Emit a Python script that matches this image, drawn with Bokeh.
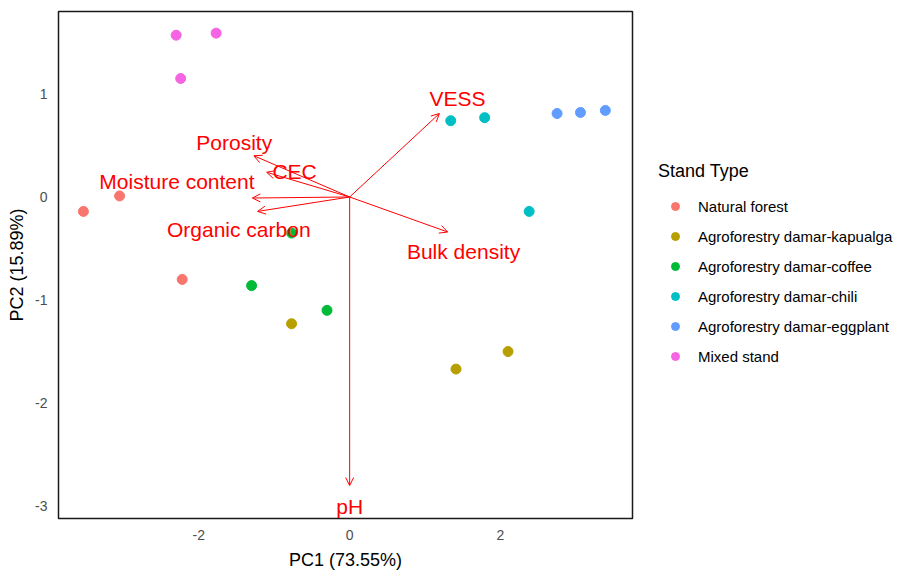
from bokeh.plotting import figure
from bokeh.layouts import row
from bokeh.models import (ColumnDataSource, Arrow, OpenHead, Legend, LegendItem,
                          FixedTicker, Range1d)
from bokeh.core.properties import value
from bokeh.embed import file_html
from bokeh.resources import INLINE

# ---- data ----
groups = ["Natural forest", "Agroforestry damar-kapualga", "Agroforestry damar-coffee",
          "Agroforestry damar-chili", "Agroforestry damar-eggplant", "Mixed stand"]
colors = ["#F8766D", "#B79F00", "#00BA38", "#00BFC4", "#619CFF", "#F564E3"]

pc1_natural = [-3.53, -3.05, -2.22]
pc2_natural = [-0.14, 0.01, -0.80]
pc1_kapualga = [-0.77, 1.41, 2.10]
pc2_kapualga = [-1.23, -1.67, -1.50]
pc1_coffee = [-0.77, -1.30, -0.30]
pc2_coffee = [-0.35, -0.86, -1.10]
pc1_chili = [1.34, 1.79, 2.38]
pc2_chili = [0.74, 0.77, -0.14]
pc1_eggplant = [2.75, 3.06, 3.39]
pc2_eggplant = [0.81, 0.82, 0.84]
pc1_mixed = [-2.30, -1.77, -2.24]
pc2_mixed = [1.57, 1.59, 1.15]

variables = ["VESS", "Porosity", "CEC", "Moisture content", "Organic carbon", "Bulk density", "pH"]
load_pc1 = [1.19, -1.27, -1.10, -1.29, -1.22, 1.30, 0.0]
load_pc2 = [0.81, 0.40, 0.24, -0.01, -0.14, -0.34, -2.80]
label_pc1 = [1.43, -1.53, -0.73, -2.29, -1.47, 1.51, 0.0]
label_pc2 = [0.96, 0.53, 0.25, 0.15, -0.32, -0.53, -3.00]

x_ticks = [-2, 0, 2]
y_ticks = [-3, -2, -1, 0, 1]

FONT = "Liberation Sans"

p = figure(frame_width=574, frame_height=507, output_backend="svg", toolbar_location=None,
           x_range=Range1d(-3.86, 3.75), y_range=Range1d(-3.12, 1.80),
           min_border_left=58, min_border_right=2, min_border_top=11, min_border_bottom=46)

p.xgrid.visible = False
p.ygrid.visible = False
p.outline_line_color = "#1a1a1a"
p.outline_line_width = 1.5
p.background_fill_color = "white"
p.border_fill_color = "white"

for ax in (p.xaxis[0], p.yaxis[0]):
    ax.axis_line_color = None
    ax.major_tick_line_color = None
    ax.minor_tick_line_color = None
    ax.major_label_text_font = FONT
    ax.major_label_text_font_size = "14px"
    ax.major_label_text_color = "#4D4D4D"
    ax.axis_label_text_font = FONT
    ax.axis_label_text_font_size = "18px"
    ax.axis_label_text_font_style = "normal"
    ax.axis_label_text_color = "black"
    ax.major_label_standoff = 5
    ax.axis_label_standoff = 5

p.xaxis.major_label_standoff = 5
p.xaxis.axis_label_standoff = 7
p.xaxis.ticker = FixedTicker(ticks=x_ticks)
p.yaxis.ticker = FixedTicker(ticks=y_ticks)
p.xaxis.major_label_overrides = {t: str(t) for t in x_ticks}
p.yaxis.major_label_overrides = {t: str(t) for t in y_ticks}
p.xaxis.axis_label = "PC1 (73.55%)"
p.yaxis.axis_label = "PC2 (15.89%)"

# ---- arrows (loadings) ----
asrc = ColumnDataSource(dict(x0=[0.0] * len(variables), y0=[0.0] * len(variables),
                             x1=load_pc1, y1=load_pc2))
p.add_layout(Arrow(source=asrc, x_start="x0", y_start="y0", x_end="x1", y_end="y1",
                   line_color="#FF0000", line_width=1,
                   end=OpenHead(size=8, line_color="#FF0000", line_width=1)))

# ---- points ----
xs = [pc1_natural, pc1_kapualga, pc1_coffee, pc1_chili, pc1_eggplant, pc1_mixed]
ys = [pc2_natural, pc2_kapualga, pc2_coffee, pc2_chili, pc2_eggplant, pc2_mixed]
for c, x, y in zip(colors, xs, ys):
    p.scatter(x=x, y=y, size=10, marker="circle", fill_color=c, line_color=c)

# ---- labels ----
lsrc = ColumnDataSource(dict(x=label_pc1, y=label_pc2, t=variables))
p.text(x="x", y="y", text="t", source=lsrc, text_color="#FF0000",
       text_font=value(FONT), text_font_size="21px",
       text_align="center", text_baseline="middle")

# ---- legend panel (separate figure so it sits beside the plot) ----
lg = figure(width=260, height=564, output_backend="svg", toolbar_location=None,
            x_axis_location=None, y_axis_location=None,
            x_range=Range1d(100, 101), y_range=Range1d(100, 101),
            min_border=0)
lg.xgrid.visible = False
lg.ygrid.visible = False
lg.outline_line_color = None
lg.background_fill_color = "white"
lg.border_fill_color = "white"

items = []
for g, c, x, y in zip(groups, colors, xs, ys):
    r = lg.scatter(x=x, y=y, size=10, marker="circle", fill_color=c, line_color=c)
    items.append(LegendItem(label=g, renderers=[r]))

legend = Legend(items=items, location=(24, 144), title="Stand Type")
legend.title_text_font = FONT
legend.title_text_font_size = "18px"
legend.title_text_font_style = "normal"
legend.title_text_color = "black"
legend.title_standoff = 14
legend.label_text_font = FONT
legend.label_text_font_size = "15px"
legend.label_text_color = "black"
legend.glyph_width = 34
legend.glyph_height = 20
legend.label_height = 20
legend.label_standoff = 6
legend.spacing = 10
legend.padding = 0
legend.margin = 0
legend.border_line_color = None
legend.background_fill_color = None
lg.add_layout(legend, "center")

layout = row(p, lg)
open("out.html", "w").write(file_html(layout, INLINE))
